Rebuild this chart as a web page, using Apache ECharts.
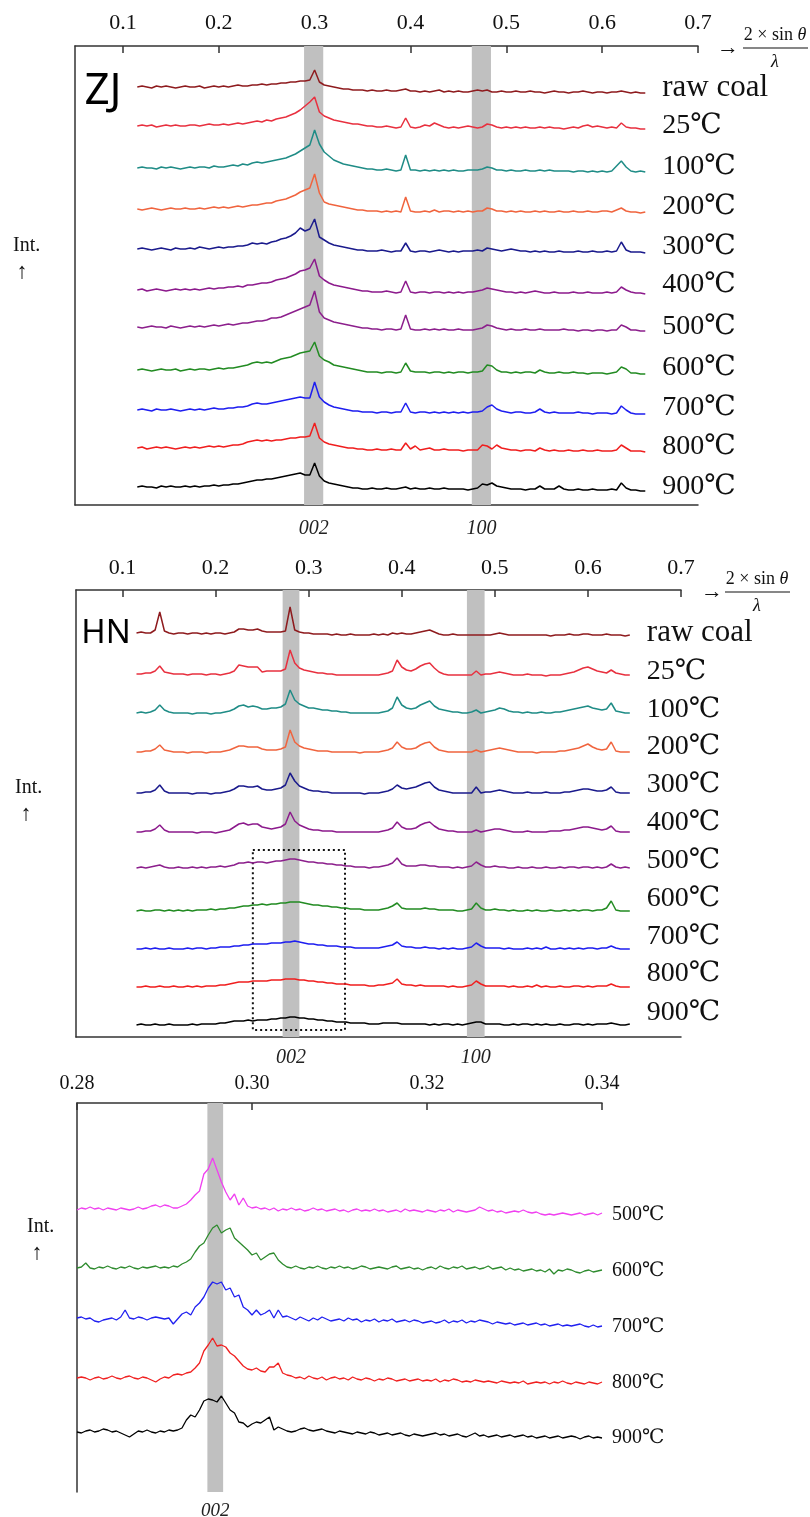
<!DOCTYPE html>
<html><head><meta charset="utf-8">
<script src="https://cdn.jsdelivr.net/npm/echarts@6.0.0/dist/echarts.min.js"></script>
<style>html,body{margin:0;padding:0;background:#fff}#c{width:810px;height:1517px}</style>
</head><body><div id="c"></div>
<script>
// ---------- sampling positions (2·sinθ/λ) ----------
const xMain = [
0.115,0.12,0.125,0.13,0.135,0.14,0.145,0.15,0.155,0.16,
0.165,0.17,0.175,0.18,0.185,0.19,0.195,0.2,0.205,0.21,
0.215,0.22,0.225,0.23,0.235,0.24,0.245,0.25,0.255,0.26,
0.265,0.27,0.275,0.28,0.285,0.29,0.295,0.3,0.305,0.31,
0.315,0.32,0.325,0.33,0.335,0.34,0.345,0.35,0.355,0.36,
0.365,0.37,0.375,0.38,0.385,0.39,0.395,0.4,0.405,0.41,
0.415,0.42,0.425,0.43,0.435,0.44,0.445,0.45,0.455,0.46,
0.465,0.47,0.475,0.48,0.485,0.49,0.495,0.5,0.505,0.51,
0.515,0.52,0.525,0.53,0.535,0.54,0.545,0.55,0.555,0.56,
0.565,0.57,0.575,0.58,0.585,0.59,0.595,0.6,0.605,0.61,
0.615,0.62,0.625,0.63,0.635,0.64,0.645];
const xZoom = [
0.28,0.2805,0.281,0.2815,0.282,0.2825,0.283,0.2835,0.284,0.2845,
0.285,0.2855,0.286,0.2865,0.287,0.2875,0.288,0.2885,0.289,0.2895,
0.29,0.2905,0.291,0.2915,0.292,0.2925,0.293,0.2935,0.294,0.2945,
0.295,0.2955,0.296,0.2965,0.297,0.2975,0.298,0.2985,0.299,0.2995,
0.3,0.3005,0.301,0.3015,0.302,0.3025,0.303,0.3035,0.304,0.3045,
0.305,0.3055,0.306,0.3065,0.307,0.3075,0.308,0.3085,0.309,0.3095,
0.31,0.3105,0.311,0.3115,0.312,0.3125,0.313,0.3135,0.314,0.3145,
0.315,0.3155,0.316,0.3165,0.317,0.3175,0.318,0.3185,0.319,0.3195,
0.32,0.3205,0.321,0.3215,0.322,0.3225,0.323,0.3235,0.324,0.3245,
0.325,0.3255,0.326,0.3265,0.327,0.3275,0.328,0.3285,0.329,0.3295,
0.33,0.3305,0.331,0.3315,0.332,0.3325,0.333,0.3335,0.334,0.3345,
0.335,0.3355,0.336,0.3365,0.337,0.3375,0.338,0.3385,0.339,0.3395,
0.34];

// tick labels
const mainTicks = [0.1,0.2,0.3,0.4,0.5,0.6,0.7];
const zoomTicks = [0.28,0.30,0.32,0.34];

// series names
const tempNames = ['raw coal','25℃','100℃','200℃','300℃','400℃','500℃','600℃','700℃','800℃','900℃'];
const zoomNames = ['500℃','600℃','700℃','800℃','900℃'];

// vertical stacking offsets (intensity units)
const zjOffsets = [418,379,337,296,256,215,178,135,95,57,18];
const hnOffsets = [404,363,324,285,244,205,169,126,88,50,12];
const zoomOffsets = [282,224,174,114,60];

// ---------- ZJ intensities ----------
const zjRaw = [0,1,0,-1,1,0,1,0,-1,0, 1,0,0,1,-1,0,1,0,1,0, 1,2,1,1,2,2,3,2,3,3, 4,4,5,5,6,6,7,17,5,2,
 1,0,-1,-2,-2,-3,-3,-3,-4,-3, -4,-4,-3,-4,-4,-3,-2,-4,-4,-5, -4,-5,-4,-3,-5,-4,-5,-4,-5,-5,
 -4,-3,-4,-3,-5,-5,-4,-5,-5,-4, -5,-5,-4,-5,-5,-6,-5,-4,-5,-5, -6,-5,-5,-4,-5,-6,-5,-5,-6,-5, -5,-4,-5,-6,-5,-6,-6];
const zj25 = [0,1,0,1,-1,0,1,0,1,0, 0,1,1,0,1,2,1,1,2,1, 2,3,2,3,4,5,4,6,5,7, 8,9,11,13,16,20,24,29,14,10,
 8,6,5,4,3,2,2,1,0,0, -1,-1,0,-1,-2,-1,8,-1,-2,-1, 1,0,3,1,-1,-2,-1,-2,-1,0,
 -1,-2,-1,2,1,-1,-2,-1,-2,-1, -2,-1,-2,-2,-1,-2,-1,-2,-2,-3, -2,-1,-2,0,1,-1,0,-1,-2,-1, -2,3,-1,-2,-2,-3,-3];
const zj100 = [0,1,0,0,-1,1,0,1,0,-1, 0,1,0,1,1,0,2,1,1,2, 3,2,4,3,5,6,5,6,7,8, 9,10,12,14,17,20,23,38,24,16,
 12,8,6,4,3,2,1,0,-1,-1, -2,-2,-1,-2,-3,-2,13,-2,-2,-3, -2,-3,-2,-3,-2,-3,-2,-3,-3,-2,
 -2,-2,-1,1,0,-2,-2,-3,-2,-3, -3,-2,-3,-3,-2,-3,-2,-3,-3,-3, -3,-4,-3,-3,-4,-3,-4,-3,-4,-3, 2,7,1,-3,-4,-3,-4];
const zj200 = [0,-1,0,1,0,-1,0,1,0,0, 1,0,0,1,0,1,2,1,2,1, 2,3,2,3,4,4,5,6,6,8, 9,10,12,14,17,19,21,35,16,7,
 5,4,3,2,1,0,-1,-1,-2,-2, -2,-3,-2,-3,-2,-3,12,-2,-3,-3, -2,-3,-1,-3,-2,-2,-3,-2,-3,-2,
 -3,-2,-2,1,0,-2,-2,-3,-2,-3, -2,-3,-3,-2,-3,-2,-3,-3,-2,-3, -3,-2,-3,-3,-2,-3,-3,-2,-2,-3, -1,1,-2,-3,-3,-4,-3];
const zj300 = [0,1,0,-1,0,1,0,-1,1,0, 0,1,0,2,1,0,1,2,1,2, 2,3,3,4,6,5,6,5,7,8, 10,11,13,16,21,18,20,30,12,9,
 6,4,3,2,1,0,-1,-1,-2,-2, -2,-1,-2,-3,-2,-2,6,-2,-3,-2, -2,-3,-2,-1,-2,-3,-2,-3,-2,-2,
 -2,-1,-2,1,0,-1,-2,-1,0,-1, -2,-2,-3,-2,-3,-2,-3,-3,-2,-3, -3,-3,-2,-3,-3,-2,-3,-3,-2,-3, -2,7,-1,-3,-3,-3,-4];
const zj400 = [0,1,-1,0,1,0,-1,0,1,0, 1,0,1,0,1,2,1,2,2,3, 3,4,3,5,5,6,7,7,8,10, 11,12,14,16,19,20,22,31,14,10,
 7,5,4,3,2,1,0,-1,-1,-2, -2,-2,-1,-2,-3,-2,9,-2,-3,-2, -2,-3,-2,-2,-3,-2,-3,-2,-3,-2,
 -2,-1,0,2,1,0,-1,-2,-2,-3, -2,-3,-2,-1,-2,-3,-3,-2,-3,-3, -3,-2,-3,-3,-2,-3,-3,-3,-2,-3, -2,3,0,-2,-3,-3,-4];
const zj500 = [0,-1,0,1,0,0,-1,1,0,-1, 0,1,0,1,0,1,2,1,2,3, 2,3,4,4,5,6,6,7,9,9, 10,12,14,16,18,20,22,36,15,9,
 7,5,4,3,2,1,0,-1,-1,-2, -2,-3,-2,-2,-3,-2,12,-2,-3,-3, -2,-3,-2,-3,-2,-3,-3,-2,-3,-3,
 -3,-2,-1,2,1,-1,-2,-3,-2,-3, -3,-2,-3,-3,-2,-3,-3,-3,-3,-2, -3,-3,-4,-3,-3,-4,-3,-3,-4,-3, -3,2,0,-3,-3,-4,-4];
const zj600 = [0,1,0,-1,0,1,0,0,1,-1, 0,1,0,1,1,0,1,2,1,2, 2,3,4,5,7,8,7,8,7,9, 11,12,13,15,17,18,19,28,14,10,
 8,5,4,3,2,1,0,-1,-2,-2, -2,-3,-2,-2,-3,-2,7,-1,-2,-2, -2,-3,-2,-2,-3,-2,-3,-2,-2,-3,
 -2,-2,-1,5,4,0,-2,-2,-3,-2, -3,-2,-2,-3,0,-2,-3,-3,-2,-3, -3,-2,-3,-3,-4,-3,-3,-3,-4,-3, -2,3,1,-3,-3,-4,-4];
const zj700 = [0,1,0,-1,1,0,0,1,0,-1, 0,1,0,1,0,1,2,1,1,2, 2,3,3,4,6,7,6,6,7,8, 9,10,11,12,13,12,12,28,13,8,
 5,3,2,1,0,-1,-1,-2,-2,-2, -3,-2,-2,-3,-2,-2,7,-2,-3,-2, -2,-3,-2,-3,-2,-3,-2,-3,-2,-3,
 -2,-2,-1,3,5,1,-1,-2,-3,-2, -2,-3,-3,-2,1,-2,-3,-2,-3,-3, -3,-3,-2,-3,-3,-4,-3,-3,-3,-4, -3,4,0,-3,-4,-4,-4];
const zj800 = [0,1,-1,0,1,0,1,0,-1,0, 1,0,1,0,1,2,1,2,1,2, 3,3,4,6,7,8,7,8,7,8, 8,9,10,10,11,11,12,25,10,6,
 4,3,2,1,0,0,-1,-1,-2,-2, -1,-2,-2,-1,-2,-2,5,-1,2,-2, -1,0,-2,-2,-1,-2,-2,-2,-3,-2,
 -2,-2,3,2,-1,3,0,-1,-2,-2, -3,-2,-2,-3,0,-2,-3,-2,-3,-3, -2,-3,-3,-2,-3,-3,-2,-3,-3,-3, -2,3,0,-3,-3,-3,-4];
const zj900 = [0,1,0,0,-1,1,0,1,0,0, 1,0,1,0,1,1,2,1,2,2, 3,3,4,5,6,7,7,8,8,9, 10,11,12,13,14,12,12,24,11,6,
 4,3,2,1,0,-1,-1,-2,-2,-1, -2,-2,-1,-2,-2,-1,0,-2,-1,-2, -2,-1,-2,-2,-1,-2,-2,-2,-2,-3,
 -2,-1,3,2,4,1,0,-1,-2,-2, -2,-3,-2,-2,1,-2,-2,-2,1,-2, -3,-3,-2,-3,-3,-2,-3,-3,-3,-2, -3,4,-1,-3,-3,-4,-4];

// ---------- HN intensities ----------
const hnRaw = [0,1,0,0,3,21,2,0,-1,0, 0,-1,0,0,-1,0,-1,0,0,-1, 0,1,4,4,3,3,4,2,1,1, 1,1,2,26,3,1,0,0,-1,-1,
 -1,-1,-2,-1,-2,-2,-1,-2,-2,-2, -2,-1,-2,-1,-2,0,-1,0,-1,-1, 0,1,2,3,1,-1,-2,-2,-1,-2,
 -2,-2,-2,-2,-2,-2,-2,-1,0,-1, -2,-2,-2,-2,-2,-2,-2,-2,-2,-3, -2,-2,-2,-1,-2,-2,-1,-1,-2,-2, -2,-1,-2,-2,-2,-3,-2];
const hn25 = [0,0,1,1,3,8,2,1,0,0, 0,-1,0,0,0,-1,0,0,-1,0, 1,3,9,8,7,7,7,2,3,3, 3,3,5,24,11,6,4,3,2,1,
 1,0,0,-1,-1,-1,-1,-1,-1,-1, -1,-1,-1,0,1,3,14,7,4,3, 5,8,10,11,6,2,0,-1,-1,-1,
 -1,-1,-1,3,-1,0,0,1,2,1, 0,-1,-1,-1,0,-1,-1,-1,-2,-1, -1,-1,0,1,2,4,6,7,5,3, 2,1,4,1,0,-1,-1];
const hn100 = [0,1,0,1,3,8,3,1,0,0, 0,0,-1,0,0,0,-1,0,0,1, 2,4,7,8,6,7,6,4,4,5, 5,6,9,23,13,9,7,5,5,4,
 3,3,2,2,1,1,0,0,0,0, 0,0,0,1,2,5,16,8,5,4, 5,8,10,12,7,4,3,2,1,1,
 0,0,1,3,0,1,2,3,5,4, 2,1,1,0,1,0,0,1,0,0, 1,1,2,3,4,5,6,7,5,4, 3,4,10,2,1,0,0];
const hn200 = [0,0,1,1,3,7,2,1,0,0, 0,-1,0,0,0,-1,0,0,0,1, 2,4,6,6,5,5,5,3,2,2, 2,3,5,22,10,6,4,3,2,1,
 1,1,0,0,0,0,0,0,-1,0, 0,0,0,1,2,4,10,5,3,3, 4,7,9,10,5,2,1,0,0,0,
 0,0,0,2,0,1,2,3,4,3, 2,1,0,0,0,0,-1,0,0,0, 0,1,1,2,3,4,6,8,5,3, 2,3,10,1,0,0,0];
const hn300 = [0,0,1,1,3,8,2,0,0,0, 0,0,-1,0,0,0,-1,0,0,1, 2,4,7,7,6,6,7,4,3,3, 4,5,8,20,12,7,5,3,2,2,
 1,1,0,0,0,0,0,0,0,-1, 0,0,0,1,2,4,8,5,4,5, 6,8,10,11,6,3,2,1,0,0,
 0,0,0,6,0,1,1,2,3,2, 1,0,0,0,1,0,0,0,1,0, 0,0,1,1,2,3,4,4,3,2, 2,3,6,1,0,0,0];
const hn400 = [0,0,1,1,3,7,2,0,0,0, 0,0,0,-1,0,0,0,-1,0,1, 2,5,8,9,7,8,8,5,4,3, 4,5,8,20,11,7,5,3,2,2,
 1,1,1,0,0,0,0,0,0,0, 0,0,0,1,2,4,10,5,3,3, 4,7,9,10,6,3,2,1,1,0,
 0,0,0,2,0,1,2,3,3,2, 1,0,0,0,1,0,0,0,0,1, 1,1,2,2,3,4,5,5,4,3, 2,3,6,1,0,0,0];
const hn500 = [0,1,0,1,2,3,1,0,0,1, 0,0,1,0,1,0,1,1,2,1, 2,3,5,5,6,5,6,6,5,6, 7,7,8,9,9,8,7,6,6,5,
 5,4,4,3,3,2,2,1,1,1, 0,1,1,2,3,5,10,4,2,2, 2,3,3,2,2,1,1,1,0,1,
 0,1,2,6,3,1,1,2,1,1, 0,0,1,0,0,1,0,0,1,0, 0,1,0,1,1,0,1,1,0,1, 0,1,4,1,0,1,0];
const hn600 = [0,1,0,0,1,1,0,1,0,1, 0,1,0,1,1,1,2,1,2,2, 3,3,4,5,5,6,6,7,6,7, 7,8,8,9,9,9,8,7,6,6,
 5,5,4,4,3,3,2,2,2,1, 1,1,1,2,3,5,8,3,2,2, 2,2,3,2,2,1,1,1,1,0,
 0,1,2,8,3,1,1,2,1,1, 0,1,0,0,1,0,1,0,0,1, 0,0,1,0,1,0,1,1,0,1, 1,3,10,1,0,0,0];
const hn700 = [0,0,1,0,1,0,0,1,0,0, 0,1,0,1,1,0,1,1,2,2, 2,3,3,4,4,5,5,5,5,6, 6,6,7,7,8,7,6,5,5,4,
 4,3,3,3,2,2,2,1,1,1, 1,1,1,2,3,4,7,3,2,2, 1,1,2,1,1,0,1,0,1,0,
 0,1,2,6,3,1,1,1,1,0, 1,0,0,0,1,0,1,0,2,0, 0,1,0,1,0,1,0,1,1,0, 1,1,3,1,0,0,0];
const hn800 = [0,0,1,0,0,1,0,0,1,0, 0,1,0,1,0,1,1,1,2,2, 3,4,5,5,5,6,6,6,6,7, 7,7,8,8,8,7,7,6,6,5,
 5,4,4,3,3,3,2,2,2,2, 1,1,2,2,3,4,8,3,2,2, 1,2,1,1,1,1,1,0,1,0,
 0,1,2,6,3,1,1,1,1,1, 0,1,0,0,1,0,2,0,1,0, 0,1,0,0,1,1,0,1,0,1, 1,1,3,1,0,0,0];
const hn900 = [0,1,0,0,1,0,0,1,0,0, 0,0,1,0,1,1,1,1,2,2, 3,4,4,4,5,4,5,5,5,6, 6,7,7,8,8,7,7,6,6,5,
 5,4,4,3,3,3,2,2,2,2, 1,1,1,2,2,2,2,1,1,1, 1,1,1,0,1,0,1,1,0,1,
 0,1,2,3,3,1,1,1,1,0, 0,1,0,1,1,0,1,0,1,0, 0,1,0,0,1,1,0,1,0,1, 1,1,2,1,0,0,1];

// ---------- HN 002 detail (0.28–0.34) ----------
const z500 = [0,2,1,3,1,2,0,2,1,0, 2,1,0,1,3,1,2,4,5,3, 5,4,2,2,4,6,10,15,19,36, 41,52,40,28,18,10,16,5,12,4,
 2,3,1,2,0,2,-1,1,0,2, 0,1,-1,0,2,0,1,-1,0,1, -1,0,-2,0,1,-1,0,-1,1,-1, 0,-2,-1,0,-2,1,-1,0,-1,-2,
 0,-1,-2,0,-1,1,-2,0,-1,-2, -1,0,3,1,-1,0,-2,-1,-3,-2, -1,-2,0,-2,-3,-2,-4,-5,-4,-5, -4,-3,-4,-5,-4,-3,-5,-4,-3,-5,-3];
const z600 = [0,1,5,0,-1,1,0,2,0,-1, 1,0,2,0,-1,1,0,1,2,0, 1,0,2,1,4,6,9,16,22,25, 33,40,43,35,38,40,30,26,22,18,
 13,15,8,11,14,15,8,4,1,0, 2,0,-1,1,0,2,0,-1,1,0, 2,0,1,-1,0,2,1,-1,0,1, 0,-1,1,2,-1,0,1,-1,0,-2,
 0,1,-1,2,0,-1,1,0,2,-1, 0,1,-1,0,2,-1,0,1,-2,0, -2,-1,-3,-2,-1,-3,-2,-4,-1,-6, -2,-3,-1,-2,-4,-5,-3,-2,-4,-3,-2];
const z700 = [0,1,-1,0,-3,-4,-2,-1,0,-2, 1,8,0,-1,1,0,-2,0,1,0, -1,0,-6,-1,4,6,3,11,15,21, 30,36,34,36,28,30,21,23,11,8,
 3,8,3,5,8,0,8,1,2,0, -2,1,-1,-3,0,-2,1,-1,-3,-2, -1,-3,0,-2,-1,-4,-2,-3,-1,-4, -2,-3,-1,-4,-3,-2,-4,-2,-3,-5,
 -4,-3,-5,-4,-2,-5,-3,-4,-2,-5, -3,-4,-2,-3,-4,-6,-4,-5,-6,-5, -7,-6,-5,-7,-6,-5,-7,-6,-8,-7, -6,-8,-7,-8,-7,-6,-8,-9,-7,-9,-8];
const z800 = [0,1,0,-2,0,1,-1,0,2,0, -1,1,2,0,-1,1,0,-2,-4,-1, 1,0,3,4,3,5,6,10,15,27, 33,40,32,33,31,25,22,17,12,9,
 8,10,7,6,11,11,15,5,3,2, 0,1,-1,2,0,-1,1,-2,0,1, -1,0,-2,1,-1,-2,0,-1,-3,-1, -2,0,-1,-3,-2,-1,-3,-2,-1,-3,
 -2,-3,-1,-4,-2,-3,-1,-2,-4,-3, -4,-2,-3,-4,-3,-4,-5,-3,-4,-5, -4,-5,-3,-6,-5,-4,-5,-4,-6,-4, -5,-3,-5,-6,-4,-5,-6,-4,-5,-6,-4];
const z900 = [0,-1,1,2,0,1,3,2,0,1, -1,-3,-5,-2,1,0,2,0,-1,1, 0,2,1,2,4,12,17,15,22,31, 33,32,30,36,29,22,19,10,9,5,
 8,10,9,12,15,2,5,3,1,0, 1,3,4,2,1,2,3,1,0,-1, 1,0,-1,-2,0,-1,-2,0,-1,-3, -2,-1,-3,-2,-1,-3,-4,-2,-3,-4,
 -3,-2,-1,-3,-2,-4,-3,-2,-4,-5, -3,-1,-4,-3,-5,-4,-3,-5,-4,-3, -5,-4,-3,-5,-4,-6,-5,-4,-6,-5, -4,-6,-5,-4,-5,-7,-5,-4,-6,-5,-6];

const zjData = [zjRaw,zj25,zj100,zj200,zj300,zj400,zj500,zj600,zj700,zj800,zj900];
const hnData = [hnRaw,hn25,hn100,hn200,hn300,hn400,hn500,hn600,hn700,hn800,hn900];
const zoomData = [z500,z600,z700,z800,z900];

// ---------- styles ----------
const SERIF = "'Liberation Serif','Times New Roman','DejaVu Serif',serif";
const tempColors = ['#8e1b1e','#e8303f','#1f8c86','#f0643e','#1a1a8c','#8c1a8c','#8c1f8c','#228b22','#1e1ef0','#f01e1e','#000000'];
const zoomColors = ['#f040f0','#2e8b2e','#2020f0','#f02020','#000000'];
const zjLabelDy = [-5,-3,-5,-5,-6,-9,-4,-6,-6,-5,-4];
const hnLabelDy = [-2,-3,-3,-5,-8,-9,-7,-12,-12,-13,-11];
const zoomLabelDy = [2,1,1,1,0];
const AX = '#333';

function traces(names, arrays, offsets, colors, xs, axis, lw, fs, dist, dys) {
  return names.map((n, i) => ({
    type: 'line', name: n, xAxisIndex: axis, yAxisIndex: axis === 4 ? 2 : axis / 2,
    symbol: 'none', silent: true, z: 3,
    lineStyle: { color: colors[i], width: lw }, itemStyle: { color: colors[i] },
    data: xs.map((x, k) => [x, offsets[i] + arrays[i][k]]),
    endLabel: { show: true, formatter: n, distance: dist, offset: [0, dys[i]],
      fontFamily: SERIF, fontSize: (n === 'raw coal' ? fs + 3 : fs), color: '#111' }
  }));
}

function topAxis(grid, min, max, ticks, dec, fs, margin) {
  return { type: 'value', gridIndex: grid, position: 'top', min: min, max: max,
    axisLine: { show: true, onZero: false, lineStyle: { color: AX, width: 1.5 } },
    axisTick: { show: true, inside: true, length: 7, customValues: ticks, lineStyle: { color: AX, width: 1.5 } },
    axisLabel: { show: true, customValues: ticks, margin: margin, fontFamily: SERIF, fontSize: fs, color: '#111',
      formatter: v => v.toFixed(dec) },
    splitLine: { show: false } };
}
function bottomAxis(grid, min, max) {
  return { type: 'value', gridIndex: grid, position: 'bottom', min: min, max: max,
    axisLine: { show: true, onZero: false, lineStyle: { color: AX, width: 1.5 } },
    axisTick: { show: false }, axisLabel: { show: false }, splitLine: { show: false } };
}
function leftAxis(grid, max) {
  return { type: 'value', gridIndex: grid, min: 0, max: max,
    axisLine: { show: true, onZero: false, lineStyle: { color: AX, width: 1.5 } },
    axisTick: { show: false }, axisLabel: { show: false }, splitLine: { show: false } };
}
function bands(axis, yIdx, items, dist, fs) {
  return { type: 'line', xAxisIndex: axis, yAxisIndex: yIdx, data: [], z: 1, silent: true,
    markArea: { silent: true, itemStyle: { color: '#c0c0c0' },
      label: { show: true, position: 'bottom', distance: dist, formatter: '{b}', fontFamily: SERIF,
        fontStyle: 'italic', fontSize: fs, color: '#222' },
      data: items.map(b => [{ name: b[0], xAxis: b[1] }, { xAxis: b[2] }]) } };
}

const zjBands = [['002', 0.289, 0.309], ['100', 0.464, 0.484]];
const hnBands = [['002', 0.272, 0.290], ['100', 0.470, 0.489]];
const zoomBands = [['002', 0.2949, 0.2967]];
const hnBox = [0.24, 187, 0.339, 7];

const series = [].concat(
  [bands(0, 0, zjBands, 14, 20), bands(2, 1, hnBands, 11, 20), bands(4, 2, zoomBands, 9, 19)],
  traces(tempNames, zjData, zjOffsets, tempColors, xMain, 0, 1.5, 28, 17, zjLabelDy),
  traces(tempNames, hnData, hnOffsets, tempColors, xMain, 2, 1.5, 28, 17, hnLabelDy),
  traces(zoomNames, zoomData, zoomOffsets, zoomColors, xZoom, 4, 1.3, 20, 10, zoomLabelDy),
  [{ type: 'line', xAxisIndex: 2, yAxisIndex: 1, data: [], z: 5, silent: true,
     markArea: { silent: true, label: { show: false },
       itemStyle: { color: 'rgba(0,0,0,0)', borderColor: '#111', borderWidth: 2, borderType: [2, 3] },
       data: [[{ coord: [hnBox[0], hnBox[1]] }, { coord: [hnBox[2], hnBox[3]] }]] } }]
);

function fraction(cx, cy, arrowX) {
  return [
    { type: 'text', x: arrowX, y: cy, style: { text: '→', fontFamily: SERIF, fontSize: 22, fill: '#111', align: 'center', verticalAlign: 'middle' } },
    { type: 'text', x: cx, y: cy - 13, style: { text: '{n|2 × sin }{t|θ}', align: 'center', verticalAlign: 'middle',
        rich: { n: { fontFamily: SERIF, fontSize: 18, fill: '#111' }, t: { fontFamily: SERIF, fontSize: 18, fontStyle: 'italic', fill: '#111' } } } },
    { type: 'line', shape: { x1: cx - 32, y1: cy, x2: cx + 33, y2: cy }, style: { stroke: '#111', lineWidth: 1.2 } },
    { type: 'text', x: cx, y: cy + 14, style: { text: 'λ', fontFamily: SERIF, fontStyle: 'italic', fontSize: 18, fill: '#111', align: 'center', verticalAlign: 'middle' } }
  ];
}
function intLabel(x, y, ax) {
  return [
    { type: 'text', x: x, y: y, style: { text: 'Int.', fontFamily: SERIF, fontSize: 20, fill: '#111', align: 'left', verticalAlign: 'middle' } },
    { type: 'text', x: ax, y: y + 26, style: { text: '↑', fontFamily: SERIF, fontSize: 22, fill: '#111', align: 'center', verticalAlign: 'middle' } }
  ];
}

const graphic = [].concat(
  [{ type: 'text', x: 103, y: 91, style: { text: 'ZJ', fontFamily: "'Noto Sans',sans-serif", fontSize: 44, fill: '#000', align: 'center', verticalAlign: 'middle' } },
   { type: 'text', x: 106, y: 634, style: { text: 'HN', fontFamily: "'Noto Sans',sans-serif", fontSize: 33, fill: '#000', align: 'center', verticalAlign: 'middle' } }],
  fraction(775, 48, 728), fraction(757, 592, 712),
  intLabel(13, 246, 22), intLabel(15, 788, 26), intLabel(27, 1227, 37)
);

const option = {
  animation: false,
  backgroundColor: '#fff',
  grid: [
    { left: 75, top: 46, width: 623, height: 459 },
    { left: 76, top: 590, width: 605, height: 447 },
    { left: 77, top: 1103, width: 525, height: 389 }
  ],
  xAxis: [
    topAxis(0, 0.05, 0.7, mainTicks, 1, 22, 12), bottomAxis(0, 0.05, 0.7),
    topAxis(1, 0.05, 0.7, mainTicks, 1, 22, 11), bottomAxis(1, 0.05, 0.7),
    topAxis(2, 0.28, 0.34, zoomTicks, 2, 20, 9)
  ],
  yAxis: [leftAxis(0, 459), leftAxis(1, 447), leftAxis(2, 389)],
  series: series,
  graphic: graphic
};
const chart = echarts.init(document.getElementById('c'), null, { renderer: 'canvas' });
chart.setOption(option);
</script></body></html>
